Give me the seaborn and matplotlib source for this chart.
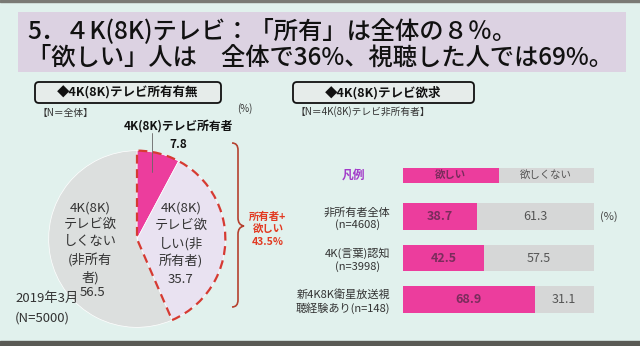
import matplotlib
matplotlib.use("Agg")
import matplotlib.pyplot as plt
import seaborn as sns
import pandas as pd
import numpy as np
from matplotlib.patches import Rectangle, FancyBboxPatch, Wedge, PathPatch
from matplotlib.path import Path

sns.set_theme(style="white")
plt.rcParams['font.family'] = ['Noto Sans CJK JP', 'DejaVu Sans']

# ---------------- data ----------------
title_lines = ["5．４K(8K)テレビ：「所有」は全体の８％。",
               "「欲しい」人は　全体で36%、視聴した人では69%。"]
pie_labels = ["4K(8K)テレビ所有者", "4K(8K)\nテレビ欲\nしい(非\n所有者)", "4K(8K)\nテレビ欲\nしくない\n(非所有\n者)"]
pie_values = [7.8, 35.7, 56.5]
owner_plus_want = 43.5

bar_categories = ["非所有者全体\n(n=4608)", "4K(言葉)認知\n(n=3998)", "新4K8K衛星放送視\n聴経験あり(n=148)"]
want = [38.7, 42.5, 68.9]
not_want = [61.3, 57.5, 31.1]

PINK = '#ec3d9d'
LAV = '#e9e2f1'
GRAY_SLICE = '#dcdfde'
BAR_GRAY = '#d6d7d7'
BG = '#e1f1ed'

W, H = 640, 346
fig = plt.figure(figsize=(6.4, 3.46), dpi=100, facecolor=BG)

# background overlay axes in pixel coordinates
ov = fig.add_axes([0, 0, 1, 1], zorder=0)
ov.set_xlim(0, W); ov.set_ylim(H, 0); ov.axis('off')
ov.add_patch(Rectangle((0, 341), W, 5, color='#5a5a55', zorder=1))
ov.add_patch(Rectangle((0, 0), W, 2, color='#7a7a75', zorder=1))

# title box
ov.add_patch(Rectangle((18, 12), 608, 60, facecolor='#dcd2e2', edgecolor='none', zorder=1))
ov.text(27, 31, title_lines[0], fontsize=17.5, fontweight='medium', va='center', ha='left', color='#111', zorder=2)
ov.text(27, 58, title_lines[1], fontsize=17.5, fontweight='medium', va='center', ha='left', color='#111', zorder=2)

# section headers
for x0, x1, txt in [(35, 221, "◆4K(8K)テレビ所有有無"), (293, 474, "◆4K(8K)テレビ欲求")]:
    ov.add_patch(FancyBboxPatch((x0, 82), x1 - x0, 21, boxstyle="round,pad=0,rounding_size=4",
                                facecolor='#e6ecea', edgecolor='#111', lw=1.3, zorder=2))
    ov.text((x0 + x1) / 2, 92.5, txt, fontsize=9, fontweight='bold', ha='center', va='center', color='#111', zorder=3)

ov.text(37, 113, "【N＝全体】", fontsize=7, ha='left', va='center', color='#333')
ov.text(245, 109, "(%)", fontsize=7, ha='center', va='center', color='#333')
ov.text(296, 112, "【N＝4K(8K)テレビ非所有者】", fontsize=7, ha='left', va='center', color='#333')

# ---------------- pie ----------------
cx, cy, r = 137, 239, 91
pax = fig.add_axes([(cx - r) / W, (H - cy - r) / H, 2 * r / W, 2 * r / H], zorder=2)
pax.pie(pie_values, colors=[PINK, LAV, GRAY_SLICE], startangle=90, counterclock=False,
        wedgeprops=dict(linewidth=0.5, edgecolor='white'))
theta2 = 90
theta1 = 90 - 360 * owner_plus_want / 100
pax.add_patch(Wedge((0, 0), 1.0, theta1, theta2, facecolor='none', edgecolor='#d63a32',
                    lw=1.6, linestyle=(0, (4, 2.5)), zorder=5))
pax.set_xlim(-1.03, 1.03); pax.set_ylim(-1.03, 1.03)
pax.set_aspect('equal'); pax.axis('off')

# top overlay for texts over the pie
top = fig.add_axes([0, 0, 1, 1], zorder=5)
top.set_xlim(0, W); top.set_ylim(H, 0); top.axis('off'); top.patch.set_alpha(0)

top.text(178, 126, pie_labels[0], fontsize=8.5, fontweight='bold', ha='center', va='center', color='#111')
top.text(178, 145, f"{pie_values[0]}", fontsize=8.5, fontweight='bold', ha='center', va='center', color='#111')
top.plot([152, 152], [133, 172], color='#666', lw=0.6)

top.text(90, 243, pie_labels[2], fontsize=9.5, ha='center', va='center', color='#333', linespacing=1.42)
top.text(93, 292, f"{pie_values[2]}", fontsize=9.5, ha='center', va='center', color='#333')
top.text(15, 298, "2019年3月", fontsize=9.5, ha='left', va='center', color='#333')
top.text(15, 318, "(N=5000)", fontsize=9.5, ha='left', va='center', color='#333')
top.text(181, 244, pie_labels[1] + f"\n{pie_values[1]}", fontsize=9.5, ha='center', va='center',
         color='#333', linespacing=1.42)

# brace
bc = '#b5412f'
verts = [(232, 143), (238, 143), (238, 150), (238, 218), (238, 225), (244, 226),
         (238, 227), (238, 234), (238, 300), (238, 307), (232, 307)]
codes = [Path.MOVETO, Path.CURVE3, Path.CURVE3, Path.LINETO, Path.CURVE3, Path.CURVE3,
         Path.CURVE3, Path.CURVE3, Path.LINETO, Path.CURVE3, Path.CURVE3]
top.add_patch(PathPatch(Path(verts, codes), facecolor='none', edgecolor=bc, lw=1.2))
top.text(268, 229, f"所有者+\n欲しい\n{owner_plus_want}%", fontsize=7.5, fontweight='bold', ha='center',
         va='center', color='#e23a22', linespacing=1.3)

# ---------------- bars ----------------
row = 41.5
top_px = 216.5 - row / 2
bot_px = top_px + 3 * row
bx0, bx1 = 403, 594
bax = fig.add_axes([bx0 / W, (H - bot_px) / H, (bx1 - bx0) / W, 3 * row / H], zorder=6)
bax.set_facecolor('none')
df = pd.DataFrame({"cat": bar_categories, "want": want, "not_want": not_want})
df["total"] = df["want"] + df["not_want"]
sns.barplot(data=df, x="total", y="cat", color=BAR_GRAY, width=0.65, ax=bax, saturation=1, linewidth=0)
sns.barplot(data=df, x="want", y="cat", color=PINK, width=0.65, ax=bax, saturation=1, linewidth=0)
bax.set_xlim(0, 100)
bax.set_ylim(2.5, -0.5)
bax.set_xlabel(""); bax.set_ylabel("")
bax.set_xticks([])
bax.tick_params(axis='y', length=0, pad=9, labelsize=8, labelcolor='#333')
for lab in bax.get_yticklabels():
    lab.set_multialignment('center')
for s in bax.spines.values():
    s.set_visible(False)
for i, (w_, n_) in enumerate(zip(want, not_want)):
    bax.text(w_ / 2, i, f"{w_}", ha='center', va='center', fontsize=9, fontweight='bold', color='#7a2c5c')
    bax.text(w_ + n_ / 2, i, f"{n_}", ha='center', va='center', fontsize=9, color='#555')
bax.text(103, 0, "(%)", ha='left', va='center', fontsize=8, color='#444', clip_on=False)

# legend row (one row above the bars)
ly = -1.0
lh = 15 / row
bax.add_patch(Rectangle((0, ly - lh / 2), 50, lh, facecolor=PINK, edgecolor='none', clip_on=False))
bax.add_patch(Rectangle((50, ly - lh / 2), 50, lh, facecolor=BAR_GRAY, edgecolor='none', clip_on=False))
bax.text(25, ly, "欲しい", ha='center', va='center', fontsize=7.5, fontweight='bold', color='#7a2c5c', clip_on=False)
bax.text(75, ly, "欲しくない", ha='center', va='center', fontsize=7.5, color='#555', clip_on=False)
bax.text(-26, ly, "凡例", ha='center', va='center', fontsize=8.5, fontweight='bold', color='#a23bc9', clip_on=False)

fig.savefig("out.png", dpi=100, facecolor=BG)
